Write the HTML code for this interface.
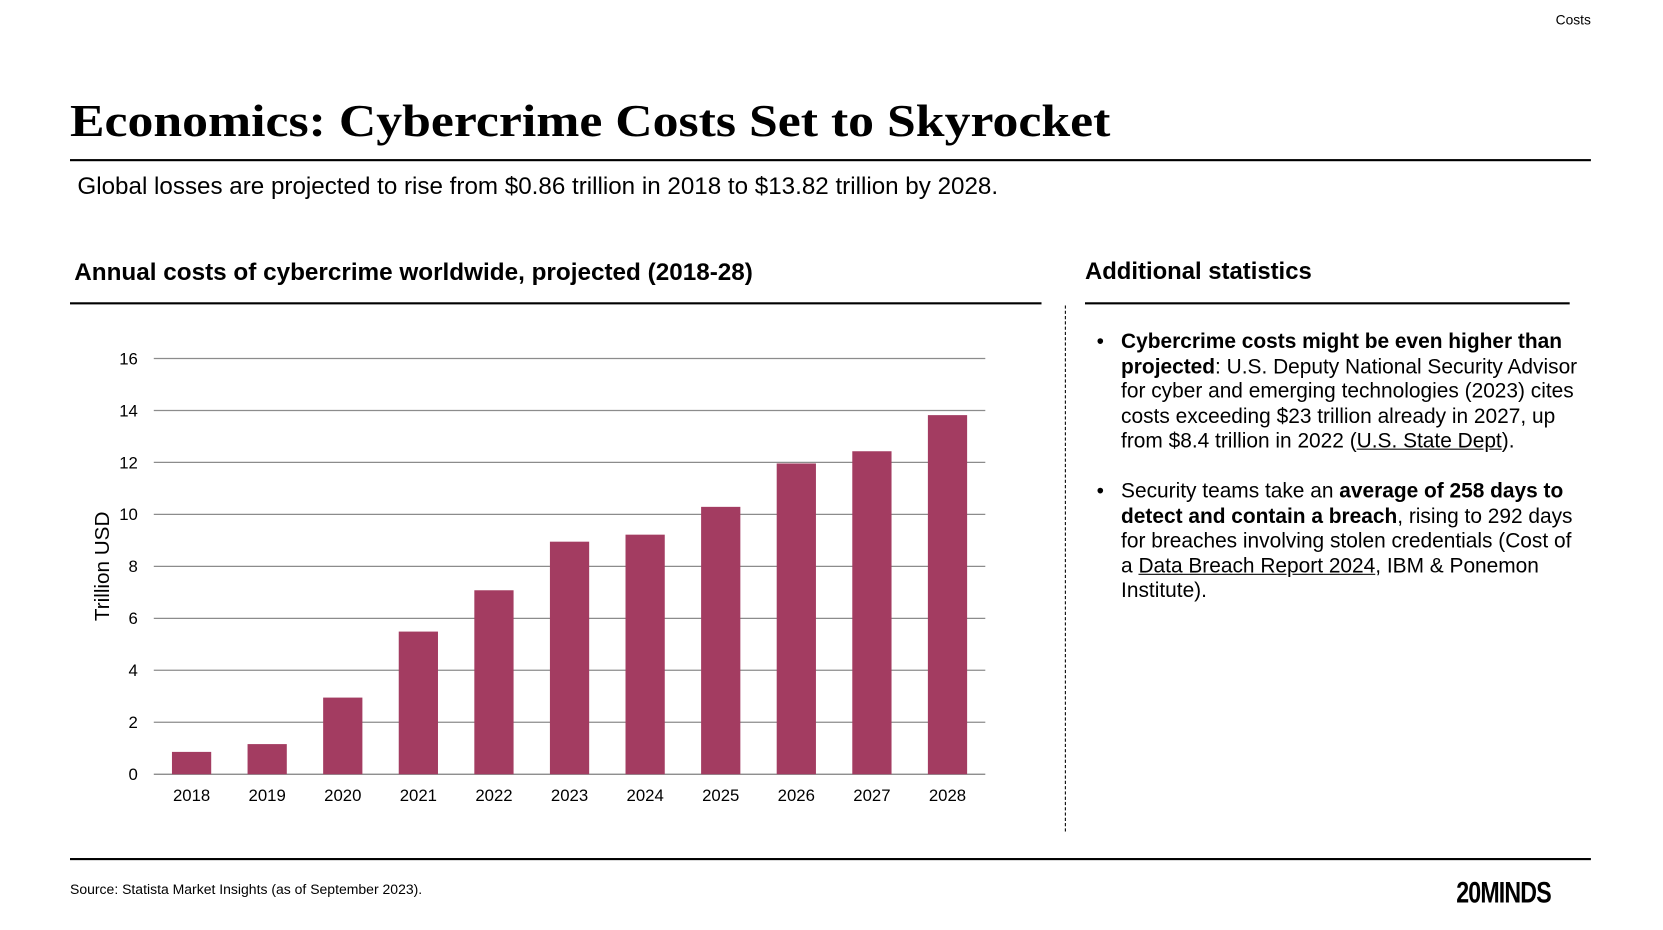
<!DOCTYPE html>
<html><head><meta charset="utf-8"><style>
html,body{margin:0;padding:0;background:#fff;width:1663px;height:930px;overflow:hidden}
#w{position:absolute;left:0;top:0;width:1568px;height:877px;transform:scale(1.0606);transform-origin:0 0;font-family:"Liberation Sans",Arial,sans-serif;color:#000}
.a{position:absolute;white-space:nowrap}
.rule{position:absolute;background:#000}
ul{margin:0;padding:0;list-style:none}
li{position:relative;padding-left:34px;font-size:19.7px;line-height:23.6px;margin-bottom:23px;white-space:nowrap}
li:before{content:"•";position:absolute;left:11px;top:0}
u{text-decoration:underline}
</style></head><body><div id="w">
<div class="a" style="right:68px;top:11px;font-size:13px">Costs</div>
<div class="a" style="left:66px;top:90px;font-family:'Liberation Serif',Georgia,serif;font-weight:bold;font-size:43px;transform:scaleX(1.135);transform-origin:0 0">Economics: Cybercrime Costs Set to Skyrocket</div>
<div class="rule" style="left:66px;top:150px;width:1434px;height:1.5px"></div>
<div class="a" style="left:73px;top:162px;font-size:22.8px">Global losses are projected to rise from $0.86 trillion in 2018 to $13.82 trillion by 2028.</div>
<div class="a" style="left:70px;top:243px;font-size:22.9px;font-weight:bold">Annual costs of cybercrime worldwide, projected (2018-28)</div>
<div class="rule" style="left:66px;top:285px;width:916px;height:2px"></div>
<div class="a" style="left:1023px;top:243px;font-size:22.5px;font-weight:bold">Additional statistics</div>
<div class="rule" style="left:1023px;top:285px;width:457px;height:2px"></div>
<div style="position:absolute;left:1004px;top:288px;height:496px;border-left:1px dashed #000"></div>
<ul class="a" style="left:1023px;top:311px">
<li><b>Cybercrime costs might be even higher than<br>projected</b>: U.S. Deputy National Security Advisor<br>for cyber and emerging technologies (2023) cites<br>costs exceeding $23 trillion already in 2027, up<br>from $8.4 trillion in 2022 (<u>U.S. State Dept</u>).</li>
<li>Security teams take an <b>average of 258 days to<br>detect and contain a breach</b>, rising to 292 days<br>for breaches involving stolen credentials (Cost of<br>a <u>Data Breach Report 2024</u>, IBM &amp; Ponemon<br>Institute).</li>
</ul>
<svg id="chart" style="position:absolute;left:0;top:0" width="1000" height="800"></svg>
<div class="rule" style="left:66px;top:809px;width:1434px;height:1.5px"></div>
<div class="a" style="left:66px;top:831px;font-size:13.2px">Source: Statista Market Insights (as of September 2023).</div>
<div class="a" style="left:1373px;top:826px;font-size:28px;font-weight:bold;letter-spacing:-1px;transform:scaleX(0.78);transform-origin:0 0">20MINDS</div>
</div>
<script>
const categories=["2018","2019","2020","2021","2022","2023","2024","2025","2026","2027","2028"];
const values=[0.86,1.16,2.95,5.49,7.08,8.95,9.22,10.29,11.96,12.43,13.82];
const yTicks=[0,2,4,6,8,10,12,14,16];
const svg=document.getElementById('chart');
const NS='http://www.w3.org/2000/svg';
const X0=145,X1=929,Y0=730,Y1=338,YMAX=16;
const band=(X1-X0)/categories.length;
const y=v=>Y0-(v/YMAX)*(Y0-Y1);
const xc=i=>X0+band*(i+0.5);
function mk(t,a){const e=document.createElementNS(NS,t);for(const k in a)e.setAttribute(k,a[k]);svg.appendChild(e);return e;}
yTicks.forEach(t=>{
  const l=mk('line',{x1:X0,x2:X1,y1:y(t),y2:y(t),stroke:t===0?'#7f7f7f':'#8c8c8c','stroke-width':1.2});
  
  
  const tx=mk('text',{x:130,y:y(t)+5.5,'text-anchor':'end','font-size':15.8,'font-family':'Liberation Sans, sans-serif'});
  tx.textContent=t;
  
  
});
values.forEach((v,i)=>{
  const r=mk('rect',{x:xc(i)-18.5,y:y(v),width:37,height:Y0-y(v),fill:'#a33c61'});
  
  
  const tx=mk('text',{x:xc(i),y:755,'text-anchor':'middle','font-size':15.8,'font-family':'Liberation Sans, sans-serif'});
  tx.textContent=categories[i];
  
  
});
const yt=mk('text',{x:0,y:0,'text-anchor':'middle','font-size':19.5,'font-family':'Liberation Sans, sans-serif',transform:'translate(103,534) rotate(-90)'});
yt.textContent='Trillion USD';


</script>
</body></html>
